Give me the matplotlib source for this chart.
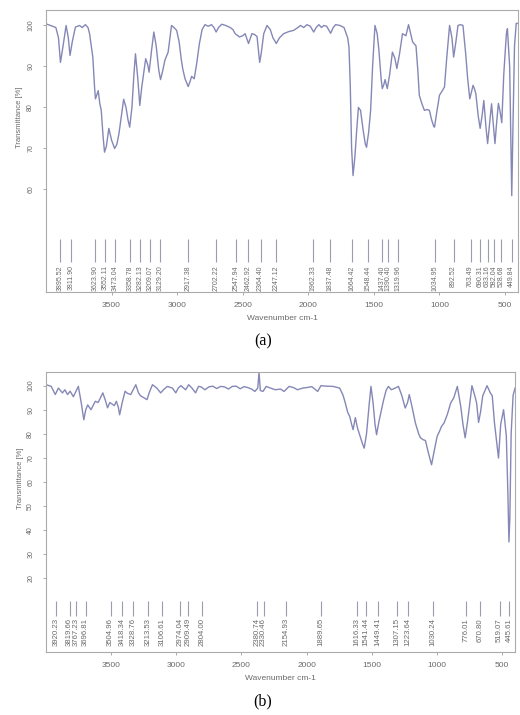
import matplotlib
matplotlib.use("Agg")
import matplotlib.pyplot as plt
import numpy as np

# spectrum (a)
wn_a = [4000, 3950, 3925, 3905, 3890, 3870, 3847, 3830, 3817, 3800, 3776, 3745, 3724, 3700,
        3680, 3668, 3643, 3630, 3623, 3602, 3590, 3579, 3565, 3554, 3540, 3521, 3500, 3477,
        3460, 3444, 3425, 3408, 3390, 3375, 3362, 3345, 3330, 3318, 3300, 3285, 3270, 3240,
        3225, 3214, 3195, 3178, 3160, 3140, 3127, 3110, 3094, 3069, 3055, 3043, 3025, 3004,
        2985, 2970, 2958, 2940, 2916, 2900, 2890, 2870, 2850, 2831, 2810, 2788, 2763, 2738,
        2720, 2703, 2685, 2660, 2630, 2596, 2575, 2558, 2525, 2500, 2482, 2456, 2430, 2410,
        2391, 2371, 2360, 2340, 2315, 2290, 2270, 2244, 2220, 2188, 2150, 2112, 2080, 2060,
        2035, 2010, 1985, 1959, 1940, 1920, 1900, 1882, 1860, 1830, 1810, 1792, 1760, 1728,
        1700, 1690, 1680, 1670, 1659, 1645, 1630, 1618, 1602, 1580, 1565, 1556, 1540, 1525,
        1510, 1492, 1475, 1462, 1445, 1436, 1425, 1415, 1398, 1380, 1359, 1340, 1325, 1305,
        1282, 1256, 1236, 1220, 1205, 1179, 1165, 1154, 1135, 1115, 1095, 1077, 1060, 1045,
        1038, 1020, 1000, 980, 962, 945, 923, 905, 892, 875, 859, 840, 821, 800, 785, 769,
        755, 744, 733, 723, 705, 690, 675, 662, 645, 633, 618, 603, 590, 577, 565, 551, 538,
        525, 510, 490, 482, 465, 455, 449, 440, 428, 415, 400]
tr_a = [100.4, 99.8, 99.5, 97, 91, 95, 100, 97, 92.7, 96, 99.6, 100, 99.5, 100.2,
        99.5, 98, 92.2, 85, 82.1, 84.1, 81, 79.3, 73, 69.1, 70.5, 74.9, 72, 70,
        71, 73.6, 78, 82, 80, 77, 75.2, 80, 88, 93.1, 87, 80.5, 85, 91.9,
        90.5, 88.6, 94, 98.4, 95, 89, 86.8, 89, 91.5, 93.5, 97, 100, 99.5, 98.8,
        96, 92, 89.5, 87, 85.1, 86.5, 87.6, 87, 91, 95.5, 99, 100.2, 99.8, 100.2,
        99.5, 98.4, 99.5, 100.3, 100, 99.5, 99, 98, 97.2, 97.5, 98, 95.6, 98, 97.8,
        97.3, 91, 93, 98, 100, 99, 97, 95.6, 97, 98, 98.5, 98.8, 99.5, 100,
        99.5, 100.2, 99.8, 98.4, 99.5, 100.2, 99.5, 100, 99.8, 98.1, 99.5, 100.2, 100, 99.5,
        97, 94.7, 85, 70, 63.4, 68, 75, 80, 79.3, 74, 71, 70.3, 74, 79.3,
        90, 100, 98, 94, 87, 84.6, 85.5, 86.8, 84.6, 88, 93.5, 92, 89.5, 93,
        98, 97.5, 100.2, 98, 96, 95, 89, 83, 81, 79.3, 79.5, 79.3, 77, 75.5,
        75.2, 79, 83, 84, 85, 92, 100, 97, 92.3, 96, 100, 100.2, 100, 93, 87, 82.1,
        84, 85.4, 84.5, 83.4, 78, 74.9, 78, 81.7, 75, 71.2, 76, 80.9, 76, 71.2, 76, 81, 79,
        76.3, 88, 98, 99.2, 90, 70, 58.5, 75, 95, 100.5, 100.5]

peaks_a = ["3895.52", "3811.90", "3623.90", "3552.11", "3473.04", "3358.78", "3282.13",
           "3209.07", "3129.20", "2917.38", "2702.22", "2547.94", "2462.92", "2364.40",
           "2247.12", "1962.33", "1837.48", "1664.42", "1548.44", "1437.40", "1390.40",
           "1319.96", "1034.95", "892.52", "763.49", "690.31", "633.16", "582.04",
           "528.68", "449.84"]

# spectrum (b)
wn_b = [4000, 3960, 3929, 3905, 3874, 3855, 3835, 3815, 3790, 3770, 3752, 3730, 3710, 3695,
        3680, 3655, 3622, 3600, 3564, 3545, 3528, 3510, 3476, 3460, 3445, 3435, 3415, 3393,
        3375, 3350, 3311, 3290, 3275, 3250, 3225, 3205, 3183, 3150, 3120, 3095, 3069, 3030,
        3004, 2985, 2965, 2928, 2905, 2880, 2852, 2830, 2810, 2780, 2750, 2720, 2690, 2660,
        2630, 2600, 2570, 2540, 2510, 2480, 2450, 2420, 2397, 2375, 2365, 2355, 2335, 2310,
        2277, 2240, 2200, 2173, 2134, 2100, 2070, 2030, 2000, 1960, 1915, 1890, 1850, 1798,
        1746, 1720, 1703, 1685, 1669, 1655, 1643, 1626, 1610, 1590, 1572, 1558, 1540, 1520,
        1506, 1490, 1475, 1463, 1445, 1425, 1411, 1390, 1372, 1350, 1320, 1295, 1270, 1243,
        1225, 1212, 1190, 1165, 1140, 1126, 1105, 1088, 1065, 1041, 1020, 998, 980, 965,
        945, 920, 894, 870, 843, 817, 800, 783, 765, 750, 731, 710, 695, 680, 665, 648,
        615, 590, 575, 558, 540, 527, 510, 488, 467, 455, 447, 440, 430, 415, 400]
tr_b = [100.4, 99.7, 96.3, 99, 97, 98.3, 96.3, 97.7, 95.4, 97.7, 99.7, 93, 85.8, 90,
        92, 90, 93.5, 93, 97, 94, 90.8, 93, 91.7, 93.5, 91, 87.9, 93, 97.7,
        96.8, 96.3, 100.4, 97, 95.8, 95, 94.2, 97.5, 100.4, 99, 97, 98.5, 99.7, 99,
        97, 99, 100, 98.3, 100.4, 99, 97, 99.7, 99.5, 98.3, 99.5, 99.8, 98.8, 99.7,
        99.5, 98.6, 99.7, 99.8, 98.7, 99.6, 99.2, 98.5, 97.6, 99, 105.5, 98, 97.6, 99.7,
        99, 98.3, 98.6, 97.6, 99.7, 99.2, 98.3, 99, 99.2, 99.6, 97.6, 100, 99.8, 99.7,
        99, 96, 92.8, 89, 87.2, 84, 81.7, 86.7, 82.5, 79, 76, 74, 80, 92,
        99.7, 93, 84, 79.6, 85, 90, 93.6, 98, 99.7, 98.3, 99, 99.7, 96, 90.7,
        93, 96.3, 91, 84.5, 80, 78.3, 77.5, 77.2, 72, 67.1, 73, 78.9, 81, 83,
        84.5, 88, 92.8, 95, 99.7, 91.4, 84, 78.3, 85, 91.4, 100, 96, 92.8, 84.7, 89, 95.8,
        100, 97, 95.8, 84.5, 76, 69.9, 84, 90, 79, 55, 35, 45, 80, 96, 99]

peaks_b = ["3920.23", "3819.66", "3767.23", "3696.81", "3504.96", "3418.34", "3328.76",
           "3213.53", "3106.61", "2974.04", "2909.49", "2804.00", "2380.74", "2330.46",
           "2154.93", "1889.65", "1616.33", "1541.44", "1449.41", "1307.15", "1223.64",
           "1030.24", "776.01", "670.80", "519.07", "445.61"]

line_col = "#8587b6"
txt_col = "#6a6a6a"
frame_col = "#ababab"
plt.rcParams["font.family"] = ["Liberation Sans", "DejaVu Sans"]

fig = plt.figure(figsize=(5.2, 7.15), dpi=100)
ax_a = fig.add_axes([0.0885, 0.5916, 0.908, 0.394])
ax_b = fig.add_axes([0.0885, 0.0881, 0.902, 0.392])


def setup(ax, wn, tr, peaks, ylim, yticks, vl, text_top, fs):
    ax.plot(wn, tr, color=line_col, lw=1.0)
    ax.set_xlim(4000, 400)
    ax.set_ylim(*ylim)
    ax.set_xticks([3500, 3000, 2500, 2000, 1500, 1000, 500])
    ax.set_yticks(yticks)
    for s in ax.spines.values():
        s.set_color(frame_col)
        s.set_linewidth(0.8)
    ax.tick_params(axis="both", colors=frame_col, length=2.5, width=0.7, labelcolor=txt_col)
    ax.tick_params(axis="x", labelsize=6, pad=5)
    ax.tick_params(axis="y", labelsize=5, pad=6, labelrotation=90)
    for t in ax.get_yticklabels():
        t.set_va("center")
    ax.set_xlabel("Wavenumber cm-1", fontsize=6, color=txt_col)
    ax.xaxis.set_label_coords(0.5, -0.082)
    ax.set_ylabel("Transmittance [%]", fontsize=5.5, color=txt_col)
    ax.yaxis.set_label_coords(-0.048, 0.62)
    pk = [float(p) for p in peaks]
    ax.vlines(pk, vl[0], vl[1], color="#9c9cb0", lw=0.8)
    for p, lab in zip(pk, peaks):
        ax.text(p, text_top, lab, rotation=90, ha="center", va="top",
                fontsize=fs, color=txt_col)


setup(ax_a, wn_a, tr_a, peaks_a, (35, 103.7), [60, 70, 80, 90, 100], (42.2, 48), 41.5, 5)
setup(ax_b, wn_b, tr_b, peaks_b, (-10.8, 105.8), [20, 30, 40, 50, 60, 70, 80, 90, 100],
      (4.3, 10.5), 3.3, 5.6)

fig.text(0.506, 0.523, "(a)", family="Liberation Serif", fontsize=11.5, ha="center", va="center")
fig.text(0.506, 0.0196, "(b)", family="Liberation Serif", fontsize=11.5, ha="center", va="center")

fig.savefig("out.png", dpi=100)
